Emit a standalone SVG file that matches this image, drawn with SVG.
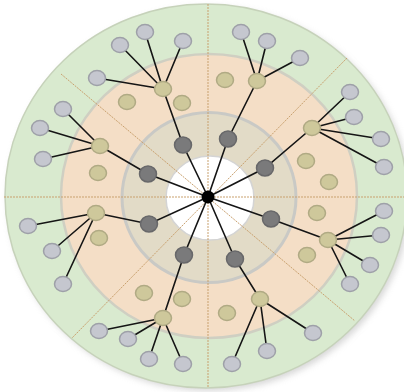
<svg xmlns="http://www.w3.org/2000/svg" width="404" height="392" viewBox="0 0 404 392">
<defs>
<filter id="sh" x="-10%" y="-10%" width="120%" height="120%"><feGaussianBlur stdDeviation="3"/></filter>
<style>
.div{stroke:#c9a16f;stroke-width:1;stroke-dasharray:2 1;fill:none}
.ln{stroke:#151515;stroke-width:1.6;fill:none}
.leaf{fill:#c5c7cf;stroke:#9ea0a8;stroke-width:1.5}
.tan{fill:#cec89b;stroke:#b0aa84;stroke-width:1.5}
.dark{fill:#7a7a7b;stroke:#68686a;stroke-width:1.5}
</style>
</defs>
<rect width="404" height="392" fill="#ffffff"/>
<g id="rings">
<ellipse cx="209" cy="199" rx="201" ry="192" fill="#bdbdbd" opacity="0.6" filter="url(#sh)"/>
<ellipse cx="206" cy="196" rx="201" ry="192" fill="#d9eacf" stroke="#c6d2ba" stroke-width="1.5"/>
<ellipse cx="209" cy="196" rx="148" ry="142" fill="#f4dec6" stroke="#cfcfc2" stroke-width="2.5"/>
<ellipse cx="209" cy="197.5" rx="87" ry="85" fill="#e2dbc7" stroke="#c9c9c5" stroke-width="3"/>
<ellipse cx="210" cy="198" rx="44" ry="42" fill="#ffffff" stroke="#d4d4d4" stroke-width="1.5"/>
</g>
<g id="dividers">
<line class="div" x1="208" y1="4" x2="208" y2="388"/>
<line class="div" x1="4" y1="197" x2="404" y2="197"/>
<line class="div" x1="61" y1="74" x2="355" y2="321"/>
<line class="div" x1="347" y1="58" x2="72" y2="338"/>
</g>
<g id="connectors">
<path class="ln" d="M208 197L183 145L163 89M145 32L163 89M120 45L163 89M183 41L163 89M97 78L163 89"/>
<path class="ln" d="M208 197L148 174L100 146M63 109L100 146M40 128L100 146M43 159L100 146"/>
<path class="ln" d="M208 197L228 139L257 81M241 32L257 81M267 41L257 81M300 58L257 81"/>
<path class="ln" d="M208 197L265 168L312 128M350 92L312 128M354 117L312 128M381 139L312 128M384 167L312 128"/>
<path class="ln" d="M208 197L271 219L328 240M384 211L328 240M381 235L328 240M370 265L328 240M350 284L328 240"/>
<path class="ln" d="M208 197L235 259L260 299M313 333L260 299M267 351L260 299M232 364L260 299"/>
<path class="ln" d="M208 197L184 255L163 318M99 331L163 318M128 339L163 318M149 359L163 318M183 364L163 318"/>
<path class="ln" d="M208 197L149 224L96 213M28 226L96 213M52 251L96 213M63 284L96 213"/>
</g>
<g id="center"><circle cx="208" cy="197" r="6.5" fill="#000"/></g>
<g id="sector-nnw">
<ellipse class="dark" cx="183" cy="145" rx="8.5" ry="8"/>
<ellipse class="tan" cx="163" cy="89" rx="8.5" ry="7.5"/>
<ellipse class="tan" cx="127" cy="102" rx="8.5" ry="7.5"/>
<ellipse class="tan" cx="182" cy="103" rx="8.5" ry="7.5"/>
<ellipse class="leaf" cx="145" cy="32" rx="8.5" ry="7.5"/>
<ellipse class="leaf" cx="120" cy="45" rx="8.5" ry="7.5"/>
<ellipse class="leaf" cx="183" cy="41" rx="8.5" ry="7.5"/>
<ellipse class="leaf" cx="97" cy="78" rx="8.5" ry="7.5"/>
</g>
<g id="sector-wnw">
<ellipse class="dark" cx="148" cy="174" rx="8.5" ry="8"/>
<ellipse class="tan" cx="100" cy="146" rx="8.5" ry="7.5"/>
<ellipse class="tan" cx="98" cy="173" rx="8.5" ry="7.5"/>
<ellipse class="leaf" cx="63" cy="109" rx="8.5" ry="7.5"/>
<ellipse class="leaf" cx="40" cy="128" rx="8.5" ry="7.5"/>
<ellipse class="leaf" cx="43" cy="159" rx="8.5" ry="7.5"/>
</g>
<g id="sector-nne">
<ellipse class="dark" cx="228" cy="139" rx="8.5" ry="8"/>
<ellipse class="tan" cx="257" cy="81" rx="8.5" ry="7.5"/>
<ellipse class="tan" cx="225" cy="80" rx="8.5" ry="7.5"/>
<ellipse class="leaf" cx="241" cy="32" rx="8.5" ry="7.5"/>
<ellipse class="leaf" cx="267" cy="41" rx="8.5" ry="7.5"/>
<ellipse class="leaf" cx="300" cy="58" rx="8.5" ry="7.5"/>
</g>
<g id="sector-ene">
<ellipse class="dark" cx="265" cy="168" rx="8.5" ry="8"/>
<ellipse class="tan" cx="312" cy="128" rx="8.5" ry="7.5"/>
<ellipse class="tan" cx="306" cy="161" rx="8.5" ry="7.5"/>
<ellipse class="tan" cx="329" cy="182" rx="8.5" ry="7.5"/>
<ellipse class="leaf" cx="350" cy="92" rx="8.5" ry="7.5"/>
<ellipse class="leaf" cx="354" cy="117" rx="8.5" ry="7.5"/>
<ellipse class="leaf" cx="381" cy="139" rx="8.5" ry="7.5"/>
<ellipse class="leaf" cx="384" cy="167" rx="8.5" ry="7.5"/>
</g>
<g id="sector-ese">
<ellipse class="dark" cx="271" cy="219" rx="8.5" ry="8"/>
<ellipse class="tan" cx="328" cy="240" rx="8.5" ry="7.5"/>
<ellipse class="tan" cx="317" cy="213" rx="8.5" ry="7.5"/>
<ellipse class="tan" cx="307" cy="255" rx="8.5" ry="7.5"/>
<ellipse class="leaf" cx="384" cy="211" rx="8.5" ry="7.5"/>
<ellipse class="leaf" cx="381" cy="235" rx="8.5" ry="7.5"/>
<ellipse class="leaf" cx="370" cy="265" rx="8.5" ry="7.5"/>
<ellipse class="leaf" cx="350" cy="284" rx="8.5" ry="7.5"/>
</g>
<g id="sector-sse">
<ellipse class="dark" cx="235" cy="259" rx="8.5" ry="8"/>
<ellipse class="tan" cx="260" cy="299" rx="8.5" ry="7.5"/>
<ellipse class="tan" cx="227" cy="313" rx="8.5" ry="7.5"/>
<ellipse class="leaf" cx="313" cy="333" rx="8.5" ry="7.5"/>
<ellipse class="leaf" cx="267" cy="351" rx="8.5" ry="7.5"/>
<ellipse class="leaf" cx="232" cy="364" rx="8.5" ry="7.5"/>
</g>
<g id="sector-ssw">
<ellipse class="dark" cx="184" cy="255" rx="8.5" ry="8"/>
<ellipse class="tan" cx="163" cy="318" rx="8.5" ry="7.5"/>
<ellipse class="tan" cx="144" cy="293" rx="8.5" ry="7.5"/>
<ellipse class="tan" cx="182" cy="299" rx="8.5" ry="7.5"/>
<ellipse class="leaf" cx="99" cy="331" rx="8.5" ry="7.5"/>
<ellipse class="leaf" cx="128" cy="339" rx="8.5" ry="7.5"/>
<ellipse class="leaf" cx="149" cy="359" rx="8.5" ry="7.5"/>
<ellipse class="leaf" cx="183" cy="364" rx="8.5" ry="7.5"/>
</g>
<g id="sector-wsw">
<ellipse class="dark" cx="149" cy="224" rx="8.5" ry="8"/>
<ellipse class="tan" cx="96" cy="213" rx="8.5" ry="7.5"/>
<ellipse class="tan" cx="99" cy="238" rx="8.5" ry="7.5"/>
<ellipse class="leaf" cx="28" cy="226" rx="8.5" ry="7.5"/>
<ellipse class="leaf" cx="52" cy="251" rx="8.5" ry="7.5"/>
<ellipse class="leaf" cx="63" cy="284" rx="8.5" ry="7.5"/>
</g>
</svg>
